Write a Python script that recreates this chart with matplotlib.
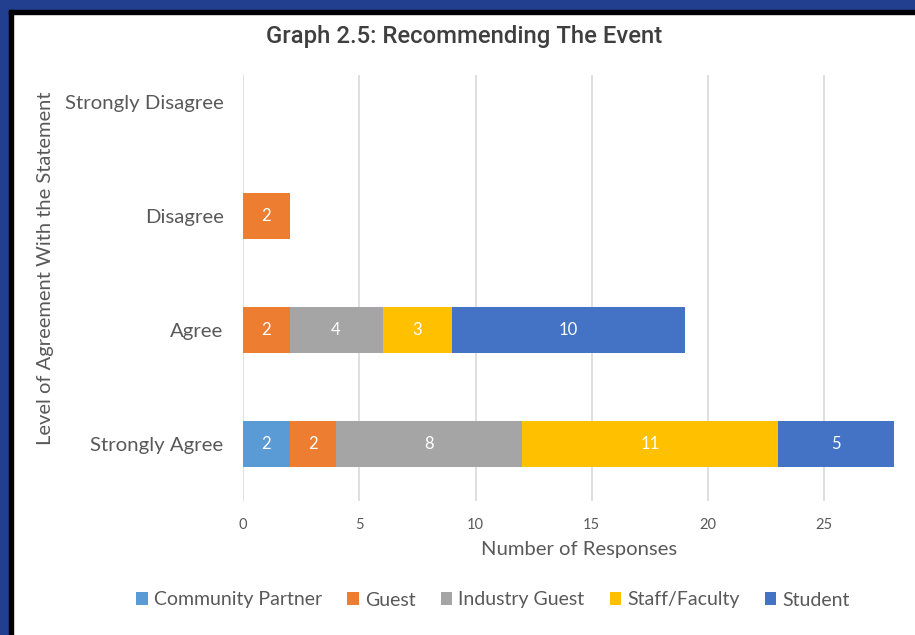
import matplotlib
matplotlib.use("Agg")
import matplotlib.pyplot as plt
from matplotlib.patches import Rectangle
import numpy as np

categories = ["Strongly Disagree", "Disagree", "Agree", "Strongly Agree"]
series_names = ["Community Partner", "Guest", "Industry Guest", "Staff/Faculty", "Student"]
community_partner = [0, 0, 0, 2]
guest = [0, 2, 2, 2]
industry_guest = [0, 0, 4, 8]
staff_faculty = [0, 0, 3, 11]
student = [0, 0, 10, 5]
x_ticks = [0, 5, 10, 15, 20, 25]

colors = ["#5B9BD5", "#ED7D31", "#A5A5A5", "#FFC000", "#4472C4"]
series = [community_partner, guest, industry_guest, staff_faculty, student]

W, H = 915, 635
fig = plt.figure(figsize=(W / 100, H / 100), dpi=100)
fig.patch.set_facecolor("white")

# frame
blue = "#223F8F"
fig.add_artist(Rectangle((0, 0), 9 / W, 1, transform=fig.transFigure, color=blue, zorder=0))
fig.add_artist(Rectangle((0, 1 - 10 / H), 1, 10 / H, transform=fig.transFigure, color=blue, zorder=0))
fig.add_artist(Rectangle((9 / W, 0), 4 / W, 1 - 10 / H, transform=fig.transFigure, color="black", zorder=0))
fig.add_artist(Rectangle((9 / W, 1 - 14 / H), 1, 4 / H, transform=fig.transFigure, color="black", zorder=0))

left_px, right_px = 243, 915
top_px, bot_px = 75, 501
ax = fig.add_axes([left_px / W, 1 - bot_px / H, (right_px - left_px) / W, (bot_px - top_px) / H])
ax.set_facecolor("none")

font = "Lato"
gray = "#595959"

y = np.arange(len(categories))
left = np.zeros(len(categories))
for name, vals, c in zip(series_names, series, colors):
    vals = np.array(vals, dtype=float)
    bars = ax.barh(y, vals, left=left, height=0.4, color=c, label=name, zorder=3)
    for b, v, l in zip(bars, vals, left):
        if v > 0:
            ax.text(l + v / 2, b.get_y() + b.get_height() / 2, f"{int(v)}",
                    ha="center", va="center", color="white", fontsize=12, family=font, zorder=4)
    left += vals

ax.set_xlim(0, (right_px - left_px) / 23.25)
ax.set_ylim(3.5, -0.237)
ax.set_yticks(y)
ax.set_yticklabels(categories, fontsize=14.7, color=gray, family=font)
ax.set_xticks(x_ticks)
ax.set_xticklabels([str(t) for t in x_ticks], fontsize=10.5, color=gray, family=font)
ax.tick_params(axis="both", length=0)
ax.tick_params(axis="y", pad=14)
ax.tick_params(axis="x", pad=12)
for s in ax.spines.values():
    s.set_visible(False)
ax.grid(axis="x", color="#D9D9D9", linewidth=1.2, zorder=0)
ax.set_axisbelow(True)

ax.set_xlabel("Number of Responses", fontsize=14.6, color=gray, family=font, labelpad=7)
fig.text(46 / W, 1 - 268 / H, "Level of Agreement With the Statement", rotation=90,
         ha="center", va="center", fontsize=14.5, color=gray, family=font)

fig.text(464 / W, 1 - 36 / H, "Graph 2.5: Recommending The Event", ha="center", va="center",
         fontsize=17.2, color="#3F3F3F", family="Roboto", fontweight="medium")

handles, labels = ax.get_legend_handles_labels()
fig.legend(handles, labels, loc="center", bbox_to_anchor=(493 / W, 1 - 600 / H), ncol=5,
           frameon=False, prop={"family": font, "size": 14}, labelcolor=gray,
           handlelength=0.6, handleheight=0.6, handletextpad=0.3, columnspacing=1.3)

fig.savefig("out.png", dpi=100, facecolor="white")
